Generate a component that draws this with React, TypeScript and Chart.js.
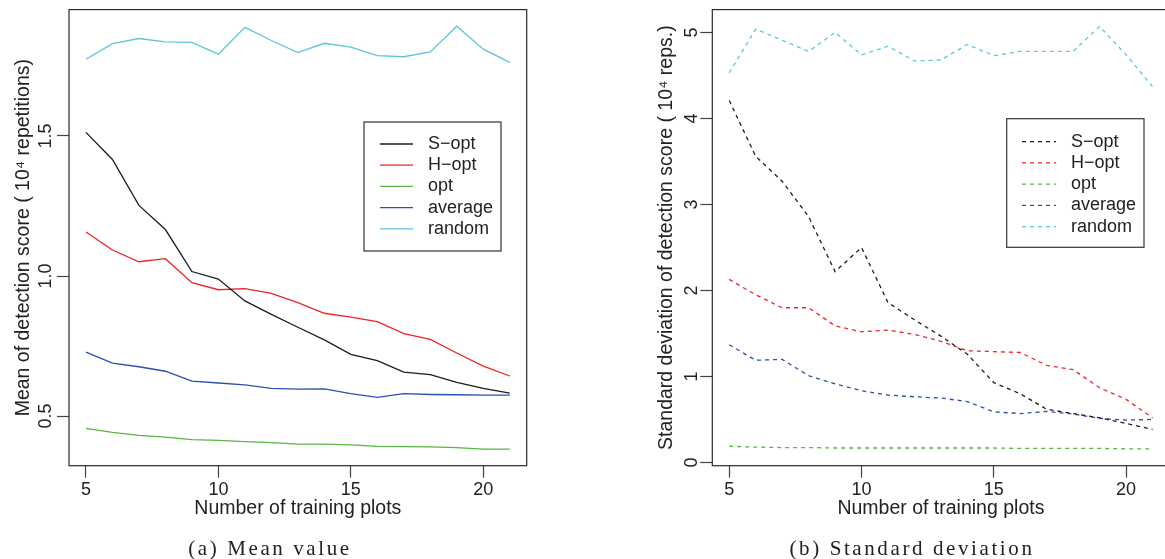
import React, { useEffect, useRef } from "react";
import { Chart, registerables } from "chart.js";

Chart.register(...registerables);

// ---------------- data ----------------
const trainingPlots = [5, 6, 7, 8, 9, 10, 11, 12, 13, 14, 15, 16, 17, 18, 19, 20, 21];
const xTickValues = [5, 10, 15, 20];
const xTickLabels = ["5", "10", "15", "20"];

const seriesLabels = ["S\u2212opt", "H\u2212opt", "opt", "average", "random"];
const seriesColors = ["#1c1c1c", "#ee2424", "#56b743", "#2b51ad", "#5ec6dc"];

// (a) mean value (10^4 repetitions)
const meanSopt = [1.513, 1.416, 1.252, 1.166, 1.016, 0.989, 0.911, 0.863, 0.817, 0.772, 0.720, 0.698, 0.657, 0.648, 0.620, 0.599, 0.582];
const meanHopt = [1.157, 1.093, 1.051, 1.062, 0.976, 0.951, 0.955, 0.938, 0.905, 0.867, 0.853, 0.837, 0.794, 0.774, 0.725, 0.678, 0.643];
const meanOpt = [0.456, 0.442, 0.431, 0.425, 0.416, 0.413, 0.409, 0.405, 0.400, 0.400, 0.397, 0.392, 0.391, 0.390, 0.387, 0.382, 0.382];
const meanAverage = [0.728, 0.689, 0.676, 0.660, 0.625, 0.618, 0.611, 0.599, 0.596, 0.597, 0.580, 0.567, 0.580, 0.577, 0.576, 0.575, 0.575];
const meanRandom = [1.774, 1.830, 1.848, 1.836, 1.834, 1.792, 1.888, 1.841, 1.798, 1.831, 1.817, 1.787, 1.783, 1.800, 1.892, 1.810, 1.763];

// (b) standard deviation (10^4 reps.)
const sdSopt = [4.21, 3.56, 3.27, 2.86, 2.22, 2.50, 1.86, 1.66, 1.47, 1.26, 0.93, 0.80, 0.62, 0.57, 0.52, 0.456, 0.385];
const sdHopt = [2.13, 1.95, 1.80, 1.80, 1.59, 1.52, 1.54, 1.49, 1.41, 1.30, 1.29, 1.28, 1.13, 1.08, 0.87, 0.735, 0.52];
const sdOpt = [0.19, 0.18, 0.175, 0.175, 0.17, 0.17, 0.17, 0.17, 0.17, 0.17, 0.17, 0.165, 0.165, 0.165, 0.165, 0.16, 0.16];
const sdAverage = [1.37, 1.19, 1.20, 1.01, 0.915, 0.835, 0.785, 0.765, 0.75, 0.71, 0.59, 0.57, 0.595, 0.565, 0.515, 0.495, 0.502];
const sdRandom = [4.53, 5.04, 4.91, 4.78, 5.00, 4.74, 4.84, 4.67, 4.68, 4.86, 4.73, 4.78, 4.78, 4.78, 5.07, 4.74, 4.37];

const meanYTickValues = [0.5, 1.0, 1.5];
const meanYTickLabels = ["0.5", "1.0", "1.5"];
const sdYTickValues = [0, 1, 2, 3, 4, 5];
const sdYTickLabels = ["0", "1", "2", "3", "4", "5"];

const xTitle = "Number of training plots";
const meanYTitle = "Mean of detection score ( 10\u2074 repetitions)";
const sdYTitle = "Standard deviation of detection score ( 10\u2074 reps.)";
const captionA = "(a) Mean value";
const captionB = "(b) Standard deviation";

// ---------------- styling / layout ----------------
const SANS = "'Liberation Sans', Arial, Helvetica, sans-serif";
const SERIF = "'Liberation Serif', 'Times New Roman', serif";
const TEXT = "#222222";
const FRAME = "#2a2a2a";

const rFramePlugin = {
  id: "rframe",
  afterDraw(chart: any, _args: any, opts: any) {
    const { ctx, chartArea } = chart;
    const { left, top, right, bottom } = chartArea;
    ctx.save();
    // plot box
    ctx.strokeStyle = FRAME;
    ctx.lineWidth = 1.2;
    ctx.strokeRect(left, top, right - left, bottom - top);

    // rotated y tick labels
    const ys = chart.scales.y;
    ctx.fillStyle = TEXT;
    ctx.font = `18px ${SANS}`;
    ys.ticks.forEach((t: any) => {
      const idx = opts.yTickValues.indexOf(t.value);
      if (idx < 0) return;
      const p = ys.getPixelForValue(t.value);
      ctx.save();
      ctx.translate(opts.yLabelBaseline, p);
      ctx.rotate(-Math.PI / 2);
      ctx.textAlign = "center";
      ctx.textBaseline = "alphabetic";
      ctx.fillText(opts.yTickLabels[idx], 0, 0);
      ctx.restore();
    });

    // legend
    const lg = opts.legend;
    ctx.strokeStyle = "#333";
    ctx.lineWidth = 1.2;
    ctx.strokeRect(lg.x0, lg.y0, lg.x1 - lg.x0, lg.y1 - lg.y0);
    chart.data.datasets.forEach((ds: any, i: number) => {
      const y = lg.rowY + i * lg.rowStep;
      ctx.save();
      ctx.strokeStyle = ds.borderColor;
      ctx.lineWidth = ds.borderWidth;
      ctx.setLineDash(ds.borderDash || []);
      ctx.beginPath();
      ctx.moveTo(lg.lineX0, y);
      ctx.lineTo(lg.lineX1, y);
      ctx.stroke();
      ctx.restore();
      ctx.fillStyle = TEXT;
      ctx.font = `18px ${SANS}`;
      ctx.textAlign = "left";
      ctx.textBaseline = "middle";
      ctx.fillText(ds.label, lg.textX, y);
    });
    ctx.restore();
  },
};

function makeConfig(p: any) {
  const datasets = p.series.map((vals: number[], i: number) => ({
    label: seriesLabels[i],
    data: trainingPlots.map((x, j) => ({ x, y: vals[j] })),
    borderColor: seriesColors[i],
    backgroundColor: seriesColors[i],
    borderWidth: 1.3,
    borderDash: p.dash,
    pointRadius: 0,
    tension: 0,
    fill: false,
  }));
  return {
    type: "line",
    data: { datasets },
    plugins: [rFramePlugin],
    options: {
      animation: false,
      responsive: false,
      devicePixelRatio: 1,
      events: [],
      layout: { padding: { left: 0, top: p.padTop, right: p.padRight, bottom: 0 } },
      plugins: {
        legend: { display: false },
        tooltip: { enabled: false },
        rframe: {
          yTickValues: p.yTickValues,
          yTickLabels: p.yTickLabels,
          yLabelBaseline: p.yLabelBaseline,
          legend: p.legend,
        },
      },
      scales: {
        x: {
          type: "linear",
          position: "bottom",
          min: 4.36,
          max: 21.64,
          afterBuildTicks: (s: any) => {
            s.ticks = xTickValues.map((v) => ({ value: v }));
          },
          afterFit: (s: any) => {
            s.height = p.xAxisHeight;
          },
          ticks: {
            autoSkip: false,
            maxRotation: 0,
            minRotation: 0,
            padding: 1.7,
            color: TEXT,
            font: { family: SANS, size: 18 },
            callback: (v: number) => {
              const i = xTickValues.indexOf(v);
              return i >= 0 ? xTickLabels[i] : "";
            },
          },
          grid: {
            drawOnChartArea: false,
            drawTicks: true,
            tickLength: 12,
            tickColor: "#444",
            tickWidth: 1.2,
          },
          border: { display: false },
          title: {
            display: true,
            text: xTitle,
            color: TEXT,
            font: { family: SANS, size: 19.5 },
            padding: { top: 0, bottom: 38.3 },
          },
        },
        y: {
          type: "linear",
          position: "left",
          min: p.yMin,
          max: p.yMax,
          afterBuildTicks: (s: any) => {
            s.ticks = p.yTickValues.map((v: number) => ({ value: v }));
          },
          afterFit: (s: any) => {
            s.width = p.yAxisWidth;
          },
          ticks: { display: false },
          grid: {
            drawOnChartArea: false,
            drawTicks: true,
            tickLength: 12,
            tickColor: "#444",
            tickWidth: 1.2,
          },
          border: { display: false },
          title: {
            display: true,
            text: p.yTitle,
            color: TEXT,
            font: { family: SANS, size: 19.5 },
            padding: { top: p.yTitlePad, bottom: 0 },
          },
        },
      },
    },
  };
}

const leftPanel = {
  series: [meanSopt, meanHopt, meanOpt, meanAverage, meanRandom],
  dash: [],
  yMin: 0.3227,
  yMax: 1.9513,
  yTickValues: meanYTickValues,
  yTickLabels: meanYTickLabels,
  yTitle: meanYTitle,
  yAxisWidth: 69,
  xAxisHeight: 93.3,
  padTop: 9.6,
  padRight: 58.3,
  yTitlePad: 12,
  yLabelBaseline: 50.5,
  legend: { x0: 364, y0: 122, x1: 501, y1: 251, lineX0: 380, lineX1: 413, textX: 428, rowY: 144, rowStep: 21.2 },
};

const rightPanel = {
  series: [sdSopt, sdHopt, sdOpt, sdAverage, sdRandom],
  dash: [4, 4],
  yMin: -0.036,
  yMax: 5.266,
  yTickValues: sdYTickValues,
  yTickLabels: sdYTickLabels,
  yTitle: sdYTitle,
  yAxisWidth: 127.3,
  xAxisHeight: 93.3,
  padTop: 9.6,
  padRight: 15.5,
  yTitlePad: 69.8,
  yLabelBaseline: 111.5,
  legend: { x0: 421.7, y0: 118.7, x1: 559, y1: 247.3, lineX0: 437, lineX1: 471, textX: 486, rowY: 141.7, rowStep: 21.25 },
};

function Panel({ cfg, left, width }: { cfg: any; left: number; width: number }) {
  const ref = useRef<HTMLCanvasElement | null>(null);
  useEffect(() => {
    if (!ref.current) return;
    const chart = new Chart(ref.current, makeConfig(cfg) as any);
    return () => chart.destroy();
  }, [cfg]);
  return (
    <canvas
      ref={ref}
      width={width}
      height={559}
      style={{ position: "absolute", left, top: 0, width, height: 559 }}
    />
  );
}

const captionStyle: React.CSSProperties = {
  position: "absolute",
  top: 536,
  width: 400,
  height: 24,
  lineHeight: "24px",
  textAlign: "center",
  fontFamily: SERIF,
  fontSize: 21,
  letterSpacing: "2.6px",
  color: TEXT,
  whiteSpace: "nowrap",
};

export default function App() {
  return (
    <div
      style={{
        position: "fixed",
        left: 0,
        top: 0,
        width: 1165,
        height: 559,
        overflow: "hidden",
        background: "#ffffff",
      }}
    >
      <Panel cfg={leftPanel} left={0} width={585} />
      <Panel cfg={rightPanel} left={585} width={600} />
      <div style={{ ...captionStyle, left: 270 - 200 }}>{captionA}</div>
      <div style={{ ...captionStyle, left: 912 - 200 }}>{captionB}</div>
    </div>
  );
}
